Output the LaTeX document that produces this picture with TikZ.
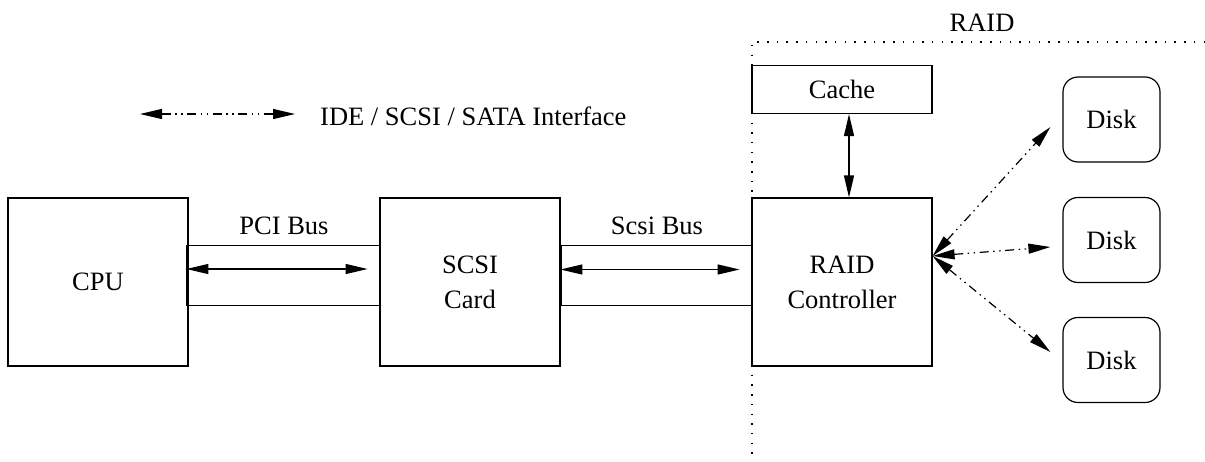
\documentclass[tikz,border=0pt]{standalone}
\usepackage{fontspec}
\setmainfont{Liberation Serif}
\usetikzlibrary{arrows.meta}
\begin{document}
\begin{tikzpicture}[x=1pt,y=-1pt,
  every node/.style={font=\fontsize{26.5}{35}\selectfont, inner sep=0pt},
  box/.style={draw, line width=1.2pt, minimum width=180pt, minimum height=168pt, align=center},
  busbox/.style={draw, line width=1.2pt, minimum width=193pt, minimum height=60pt},
  cachebox/.style={draw, line width=1.2pt, minimum width=180pt, minimum height=48pt},
  diskbox/.style={draw, line width=1.2pt, rounded corners=15pt, minimum width=97pt, minimum height=85pt},
  bothtip/.style={line width=1.2pt, {Triangle[length=22pt,width=10pt]}-{Triangle[length=22pt,width=10pt]}},
  dashdotdot/.style={dash pattern=on 9pt off 4.5pt on 1.5pt off 4.5pt on 1.5pt off 4.5pt},
  raidline/.style={line width=1.3pt, dash pattern=on 1.5pt off 8.2pt}
]
\useasboundingbox (0,0) rectangle (1205,461);

% buses (behind boxes)
\node[busbox] (pci) at (283.5,275.5) {};
\node[busbox, minimum width=191pt] (sbus) at (656.5,275.5) {};

% main boxes
\node[box] (cpu) at (98,282) {CPU};
\node[box] (scsi) at (470,282) {SCSI\\Card};
\node[box] (ctrl) at (842,282) {RAID\\Controller};
\node[cachebox] (cache) at (842,89.5) {Cache};

% disks
\node[diskbox] (d1) at (1111.5,119.5) {Disk};
\node[diskbox] (d2) at (1111.5,240) {Disk};
\node[diskbox] (d3) at (1111.5,360) {Disk};

% labels
\node (pcilab) at (284,226) {PCI Bus};
\node (sbuslab) at (657,226) {Scsi Bus};
\node (raidlab) at (982,23) {RAID};

% RAID boundary
\coordinate (rc) at (752,42);
\coordinate (rr) at (1205,42);
\coordinate (rb) at (752,461);
\draw[raidline] (rr) -- (rc) -- (rb);

% bus arrows
\draw[bothtip] ([yshift=6.5pt]pci.west) -- ([xshift=-13pt,yshift=6.5pt]pci.east);
\draw[bothtip] ([yshift=6pt]sbus.west) -- ([xshift=-13pt,yshift=6pt]sbus.east);

% cache arrow
\draw[bothtip] ([xshift=7pt]cache.south) -- ([xshift=7pt]ctrl.north);

% disk arrows
\coordinate (hub) at ([yshift=26pt]ctrl.east);
\coordinate (e1) at ([xshift=-12pt,yshift=-7.5pt]d1.west);
\coordinate (e2) at ([xshift=-12pt,yshift=-7pt]d2.west);
\coordinate (e3) at ([xshift=-12pt,yshift=8pt]d3.west);
\draw[bothtip, dashdotdot] (hub) -- (e1);
\draw[bothtip, dashdotdot] (hub) -- (e2);
\draw[bothtip, dashdotdot] (hub) -- (e3);

% legend
\coordinate (la) at (140,114);
\coordinate (lb) at (295,114);
\draw[bothtip, dashdotdot] (la) -- (lb);
\node[anchor=west] (legtxt) at (320,116) {IDE / SCSI / SATA Interface};
\end{tikzpicture}
\end{document}
